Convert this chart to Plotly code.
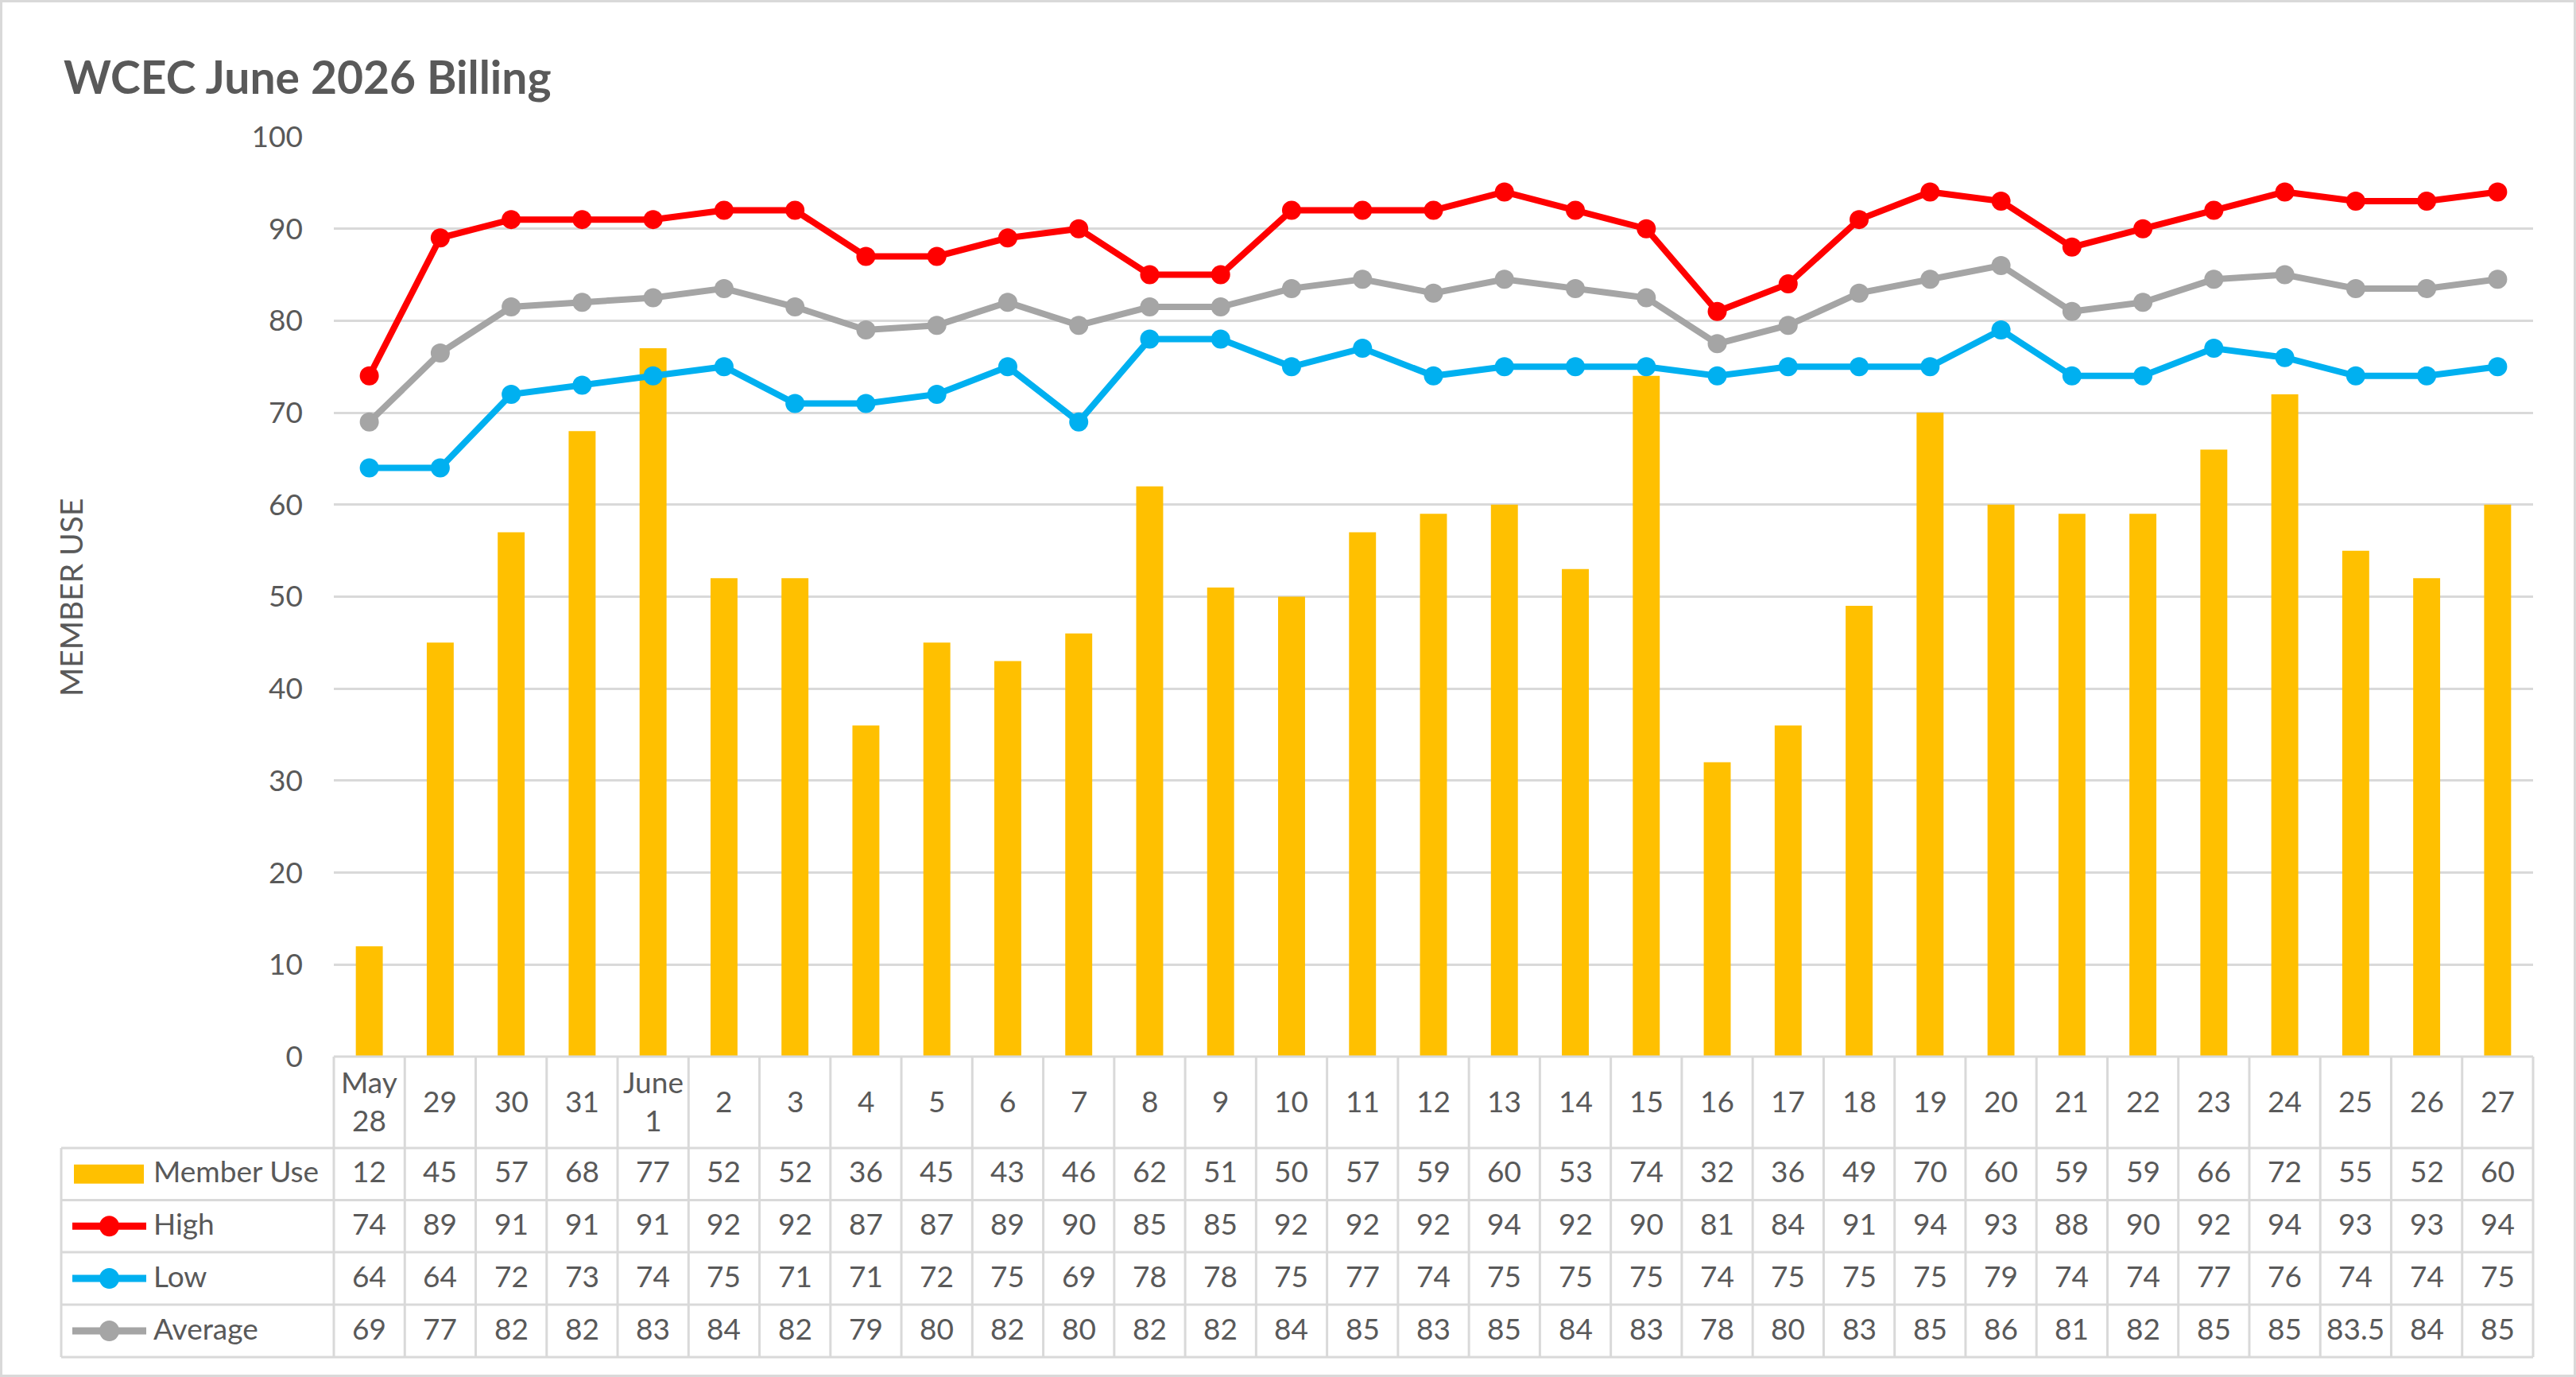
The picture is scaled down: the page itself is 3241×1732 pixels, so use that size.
import plotly.graph_objects as go

categories = ["May<br>28", "29", "30", "31", "June<br>1", "2", "3", "4", "5", "6", "7", "8", "9",
              "10", "11", "12", "13", "14", "15", "16", "17", "18", "19", "20", "21", "22",
              "23", "24", "25", "26", "27"]
member_use = [12, 45, 57, 68, 77, 52, 52, 36, 45, 43, 46, 62, 51, 50, 57, 59, 60, 53, 74, 32,
              36, 49, 70, 60, 59, 59, 66, 72, 55, 52, 60]
high = [74, 89, 91, 91, 91, 92, 92, 87, 87, 89, 90, 85, 85, 92, 92, 92, 94, 92, 90, 81, 84,
        91, 94, 93, 88, 90, 92, 94, 93, 93, 94]
low = [64, 64, 72, 73, 74, 75, 71, 71, 72, 75, 69, 78, 78, 75, 77, 74, 75, 75, 75, 74, 75,
       75, 75, 79, 74, 74, 77, 76, 74, 74, 75]
average = [69, 76.5, 81.5, 82, 82.5, 83.5, 81.5, 79, 79.5, 82, 79.5, 81.5, 81.5, 83.5, 84.5,
           83, 84.5, 83.5, 82.5, 77.5, 79.5, 83, 84.5, 86, 81, 82, 84.5, 85, 83.5, 83.5, 84.5]
average_labels = ["69", "77", "82", "82", "83", "84", "82", "79", "80", "82", "80", "82", "82",
                  "84", "85", "83", "85", "84", "83", "78", "80", "83", "85", "86", "81", "82",
                  "85", "85", "83.5", "84", "85"]
y_ticks = [0, 10, 20, 30, 40, 50, 60, 70, 80, 90, 100]

series_names = ["Member Use", "High", "Low", "Average"]
series_colors = ["#FFC000", "#FF0000", "#00B0F0", "#A5A5A5"]

W, H = 3241, 1732
L, R, T, B = 420, 54, 172, 403
PW, PH = W - L - R, H - T - B
FONT = "Lato"
TXT = "#595959"
GRID = "#D9D9D9"


def px(x):
    return (x - L) / PW


def py(y):
    return (H - B - y) / PH


fig = go.Figure()
fig.add_trace(go.Bar(x=categories, y=member_use, name="Member Use",
                     marker=dict(color=series_colors[0], line=dict(width=0))))
for name, vals, col in [("High", high, series_colors[1]), ("Low", low, series_colors[2]),
                        ("Average", average, series_colors[3])]:
    fig.add_trace(go.Scatter(x=categories, y=vals, name=name, mode="lines+markers",
                             line=dict(color=col, width=8),
                             marker=dict(color=col, size=24)))

shapes = []
annotations = []

# table geometry (pixels)
row_edges = [H - B, 1444, 1509.5, 1575, 1641, 1707]
table_left = 77
line = dict(color=GRID, width=3)

# horizontal lines
for ye in row_edges[1:]:
    shapes.append(dict(type="line", xref="paper", yref="paper", x0=px(table_left), x1=1,
                       y0=py(ye), y1=py(ye), line=line, layer="below"))
shapes.append(dict(type="line", xref="paper", yref="paper", x0=0, x1=1,
                   y0=py(row_edges[0]), y1=py(row_edges[0]), line=line))
# vertical lines
n = len(categories)
for i in range(1, n):
    shapes.append(dict(type="line", xref="x", yref="paper", x0=i - 0.5, x1=i - 0.5,
                       y0=py(row_edges[0]), y1=py(row_edges[-1]), line=line))
for xe in [0, 1]:
    shapes.append(dict(type="line", xref="paper", yref="paper", x0=xe, x1=xe,
                       y0=py(row_edges[0]), y1=py(row_edges[-1]), line=line))
shapes.append(dict(type="line", xref="paper", yref="paper", x0=px(table_left), x1=px(table_left),
                   y0=py(row_edges[1]), y1=py(row_edges[-1]), line=line))

# header labels
for i, c in enumerate(categories):
    annotations.append(dict(x=i, y=py((row_edges[0] + row_edges[1]) / 2), xref="x", yref="paper",
                            text=c, showarrow=False, xanchor="center", yanchor="middle",
                            yshift=2, font=dict(family=FONT, size=37, color=TXT)))

# table rows
rows = [[str(v) for v in member_use], [str(v) for v in high], [str(v) for v in low], average_labels]
for r, labels in enumerate(rows):
    yc = py((row_edges[r + 1] + row_edges[r + 2]) / 2)
    for i, t in enumerate(labels):
        annotations.append(dict(x=i, y=yc, xref="x", yref="paper", text=t, showarrow=False,
                                xanchor="center", yanchor="middle", yshift=4,
                                font=dict(family=FONT, size=37, color=TXT)))
    annotations.append(dict(x=px(191), y=yc, xref="paper", yref="paper", text=series_names[r],
                            showarrow=False, xanchor="left", yanchor="middle", yshift=4,
                            font=dict(family=FONT, size=37, color=TXT)))
    ycp = (row_edges[r + 1] + row_edges[r + 2]) / 2
    if r == 0:
        shapes.append(dict(type="rect", xref="paper", yref="paper", x0=px(93), x1=px(181),
                           y0=py(ycp - 12), y1=py(ycp + 12), fillcolor=series_colors[r],
                           line=dict(width=0)))
    else:
        shapes.append(dict(type="line", xref="paper", yref="paper", x0=px(91), x1=px(184),
                           y0=py(ycp), y1=py(ycp),
                           line=dict(color=series_colors[r], width=9)))
        shapes.append(dict(type="circle", xref="paper", yref="paper", x0=px(125), x1=px(150),
                           y0=py(ycp - 13), y1=py(ycp + 13), fillcolor=series_colors[r],
                           line=dict(width=0)))

# title and axis title
annotations.append(dict(x=px(78), y=py(96), xref="paper", yref="paper",
                        text="<b>WCEC June 2026 Billing</b>", showarrow=False,
                        xanchor="left", yanchor="middle",
                        font=dict(family=FONT, size=57, color=TXT)))
annotations.append(dict(x=px(89), y=py(752), xref="paper", yref="paper", text="MEMBER USE",
                        textangle=-90, showarrow=False, xanchor="center", yanchor="middle",
                        font=dict(family=FONT, size=39, color=TXT)))

# outer border
shapes.append(dict(type="rect", xref="paper", yref="paper", x0=px(1.5), x1=px(W - 1.5),
                   y0=py(1.5), y1=py(H - 1.5), line=dict(color=GRID, width=3)))

fig.update_layout(
    width=W, height=H,
    margin=dict(l=L, r=R, t=T, b=B, autoexpand=False),
    paper_bgcolor="white", plot_bgcolor="white",
    showlegend=False,
    bargap=0.62,
    shapes=shapes, annotations=annotations,
    font=dict(family=FONT, color=TXT),
)
fig.update_xaxes(type="category", range=[-0.5, n - 0.5], showticklabels=False, showgrid=False,
                 zeroline=False, showline=False, ticks="")
fig.update_yaxes(range=[0, 100], tickvals=y_ticks, showgrid=True, gridcolor=GRID, gridwidth=3,
                 zeroline=False, showline=False, ticks="", ticklabelstandoff=38,
                 tickfont=dict(family=FONT, size=37, color=TXT))

fig.write_html("out.html")
